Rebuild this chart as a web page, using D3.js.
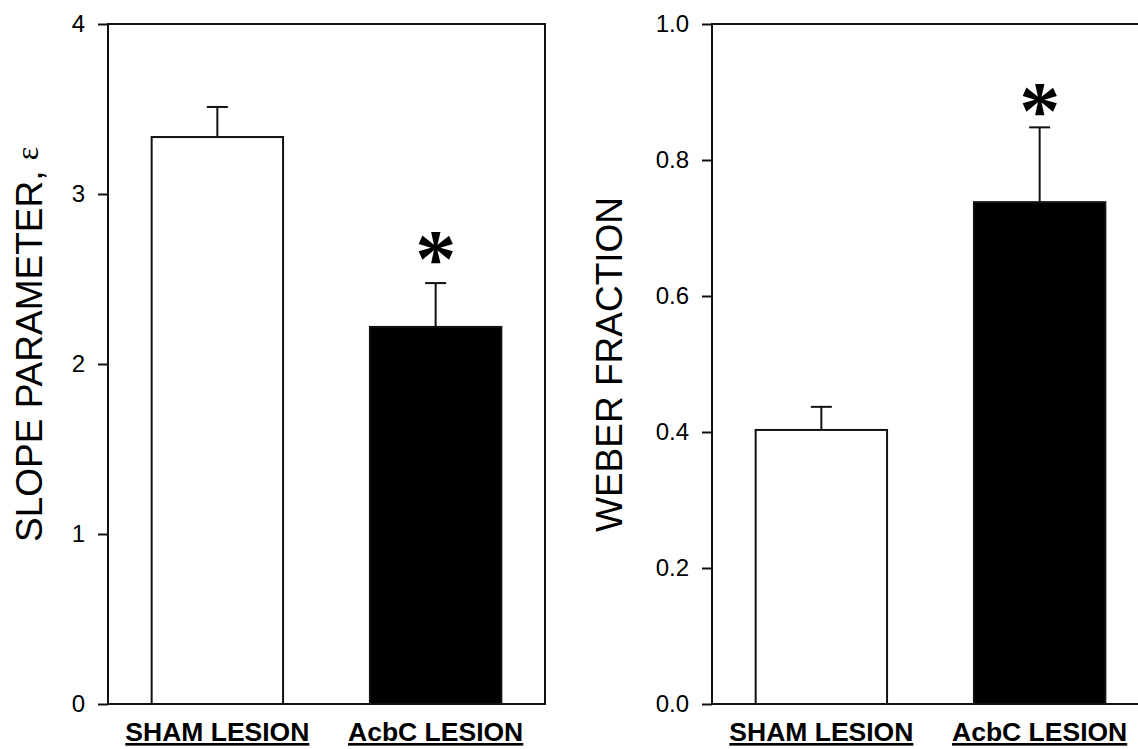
<!DOCTYPE html>
<html>
<head>
	<meta charset="utf-8">
	<title>Slope parameter and Weber fraction</title>
	<script src="https://d3js.org/d3.v7.min.js"></script>
	<style>
		body { margin: 0; background: #fff; }
		text { font-family: "Liberation Sans", Arial, sans-serif; fill: #000; }
	</style>
</head>
<body>
	<svg width="1138" height="749"></svg>
	<script>
		// data
		const groups = ['SHAM LESION', 'AcbC LESION'];
		const barFills = ['#fff', '#000'];

		const slopeMeans = [3.335, 2.218];
		const slopeErrors = [0.177, 0.258];
		const slopeStars = [null, 2.70];
		const slopeTicks = [0, 1, 2, 3, 4];

		const weberMeans = [0.403, 0.738];
		const weberErrors = [0.034, 0.110];
		const weberStars = [null, 0.893];
		const weberTicks = [0, 0.2, 0.4, 0.6, 0.8, 1.0];

		const svg = d3.select('svg');
		const plotTop = 24, plotBottom = 704, plotW = 437;

		function panel(x0, means, errors, stars, ticks, yMax, fmt, title, titleX, titleY, eps) {
			const g = svg.append('g');

			const x = d3.scaleBand()
				.domain(groups)
				.range([x0, x0 + plotW])
				.paddingInner(0.398)
				.paddingOuter(0.2);

			const y = d3.scaleLinear()
				.domain([0, yMax])
				.range([plotBottom, plotTop]);

			// y axis ticks
			const ax = g.append('g')
				.attr('transform', `translate(${x0},0)`)
				.call(d3.axisLeft(y).tickValues(ticks).tickFormat(fmt).tickSize(10).tickPadding(13));
			ax.select('.domain').remove();
			ax.selectAll('.tick line').attr('stroke', '#111').attr('stroke-width', 2);
			ax.selectAll('.tick text').style('font-size', '24px').attr('fill', '#000');

			// frame
			g.append('path')
				.attr('d', `M${x0},${plotBottom}V${plotTop}H${x0 + plotW}V${plotBottom}Z`)
				.attr('fill', 'none')
				.attr('stroke', '#111')
				.attr('stroke-width', 2);

			// bars
			g.selectAll('rect.bar')
				.data(groups)
				.join('rect')
				.attr('class', 'bar')
				.attr('x', d => x(d))
				.attr('y', (d, i) => y(means[i]))
				.attr('width', x.bandwidth())
				.attr('height', (d, i) => plotBottom - y(means[i]))
				.attr('fill', (d, i) => barFills[i])
				.attr('stroke', '#111')
				.attr('stroke-width', 2);

			// error bars (upper only)
			groups.forEach(function(d, i) {
				const cx = x(d) + x.bandwidth() / 2;
				const yt = y(means[i] + errors[i]);
				g.append('line')
					.attr('x1', cx).attr('x2', cx)
					.attr('y1', y(means[i])).attr('y2', yt)
					.attr('stroke', '#111').attr('stroke-width', 2);
				g.append('line')
					.attr('x1', cx - 10.5).attr('x2', cx + 10.5)
					.attr('y1', yt).attr('y2', yt)
					.attr('stroke', '#111').attr('stroke-width', 2);
				if (stars[i] != null) {
					g.append('text')
						.attr('x', cx)
						.attr('y', y(stars[i]))
						.attr('text-anchor', 'middle')
						.attr('dy', '0.5em')
						.style('font-family', '"Liberation Serif", "Times New Roman", serif')
						.style('font-weight', 'bold')
						.style('font-size', '82px')
						.text('*');
				}
			});

			// category labels
			g.selectAll('text.cat')
				.data(groups)
				.join('text')
				.attr('class', 'cat')
				.attr('x', d => x(d) + x.bandwidth() / 2)
				.attr('y', 741)
				.attr('text-anchor', 'middle')
				.style('font-size', '26.5px')
				.style('font-weight', 'bold')
				.style('text-decoration', 'underline')
				.text(d => d);

			// y title
			const t = g.append('text')
				.attr('transform', `translate(${titleX},${titleY}) rotate(-90)`)
				.attr('text-anchor', 'start')
				.style('font-size', '37px')
				.text(title);
			if (eps) {
				t.append('tspan')
					.attr('dy', -4)
					.style('font-family', '"Liberation Serif", "DejaVu Serif", serif')
					.style('font-size', '32px')
					.text(eps);
			}
		}

		panel(108, slopeMeans, slopeErrors, slopeStars, slopeTicks, 4, d3.format('d'),
			'SLOPE PARAMETER, ', 42, 542, 'ε');
		panel(712, weberMeans, weberErrors, weberStars, weberTicks, 1, d3.format('.1f'),
			'WEBER FRACTION', 622, 532, null);
	</script>
</body>
</html>
